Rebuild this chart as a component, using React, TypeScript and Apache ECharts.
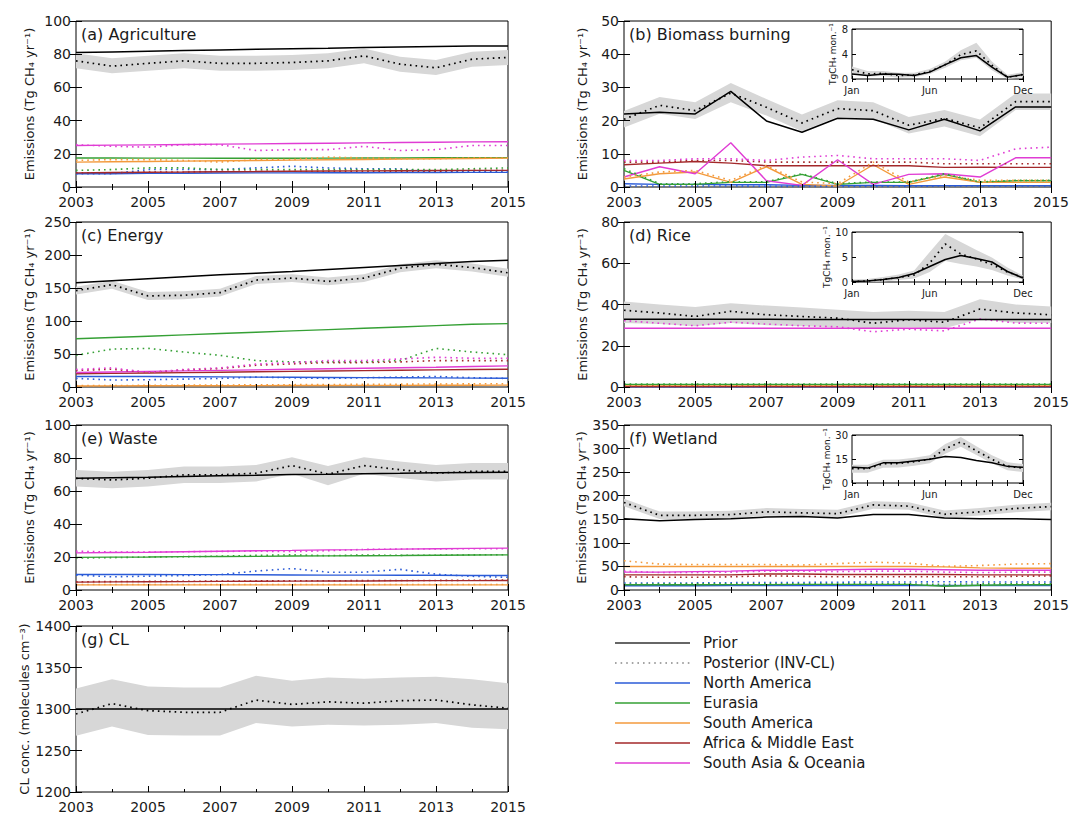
import React, { useEffect, useRef } from "react";
import * as echarts from "echarts";

// ---------- shared categories ----------
const YEARS = [2003, 2004, 2005, 2006, 2007, 2008, 2009, 2010, 2011, 2012, 2013, 2014, 2015];
const MONTHS = ["Jan", "Feb", "Mar", "Apr", "May", "Jun", "Jul", "Aug", "Sep", "Oct", "Nov", "Dec"];
const REGIONS = ["North America", "Eurasia", "South America", "Africa & Middle East", "South Asia & Oceania"];
const REGION_COLORS = ["#2b5bd7", "#35a035", "#f39a3c", "#a3282a", "#e03cd4"];
const EMIS = "Emissions (Tg CH\u2084 yr\u207B\u00B9)";

// ---------- (a) Agriculture ----------
const AGR_PRIOR = [81, 81.4, 81.8, 82.2, 82.6, 83, 83.3, 83.6, 84, 84.3, 84.6, 84.9, 85];
const AGR_POST = [76, 72.8, 74.5, 76, 74.5, 74.5, 75, 76, 79, 74, 71.8, 77, 78];
const AGR_LOW = [71.5, 68.5, 70, 71.5, 70, 70, 70.5, 71.5, 74.5, 69.5, 67.5, 72.5, 73.5];
const AGR_HIGH = [80.5, 77.5, 79, 80.5, 79, 79, 79.5, 80.5, 83.5, 78.5, 76.5, 81.5, 82.5];
const AGR_REG_PRIOR = [
  [8, 8, 8.2, 8.3, 8.4, 8.5, 8.5, 8.6, 8.6, 8.7, 8.7, 8.8, 8.8],
  [17.5, 17.5, 17.4, 17.4, 17.3, 17.3, 17.3, 17.4, 17.5, 17.5, 17.6, 17.6, 17.7],
  [15, 15.2, 15.4, 15.6, 15.8, 16, 16.2, 16.4, 16.6, 16.8, 17, 17.2, 17.4],
  [8.5, 8.7, 8.9, 9, 9.2, 9.3, 9.5, 9.6, 9.7, 9.8, 9.9, 10, 10],
  [25, 25.2, 25.4, 25.6, 25.8, 26, 26.2, 26.4, 26.6, 26.8, 27, 27.2, 27.3],
];
const AGR_REG_POST = [
  [8, 8, 10.5, 10.5, 10.5, 11.5, 12.5, 11.5, 11, 11, 9, 9.5, 9.5],
  [10, 10.5, 11.5, 11.5, 10.5, 10.5, 10.5, 10.5, 10.5, 10.5, 10.5, 11, 11.5],
  [16, 16.5, 16.5, 16, 15, 16.5, 16.5, 18, 17.5, 17, 17, 17.5, 17.5],
  [8.5, 8.5, 9, 9, 9.5, 9.5, 9.5, 9.5, 9.5, 9.5, 9.5, 10, 10],
  [25.5, 24.5, 24, 25.5, 25.5, 22, 22.5, 22.5, 24.5, 22, 22.5, 25, 25],
];

// ---------- (b) Biomass burning ----------
const BB_PRIOR = [22, 22.5, 22, 28.8, 19.9, 16.5, 20.7, 20.4, 17.2, 20.4, 16.9, 24.1, 24.1];
const BB_POST = [20.4, 24.6, 23, 28.3, 24, 19.3, 23.6, 23, 18.6, 20.7, 17.8, 25.7, 25.7];
const BB_LOW = [17.9, 22.1, 20.5, 25.5, 21.5, 16.8, 21.1, 20.5, 16.1, 18.2, 15.3, 23.2, 23.2];
const BB_HIGH = [22.9, 27.1, 25.5, 31.3, 26.5, 21.8, 26.1, 25.5, 21.1, 23.2, 20.3, 28.2, 28.2];
const BB_REG_PRIOR = [
  [1, 0.8, 0.8, 0.7, 0.7, 0.5, 0.5, 0.5, 0.4, 0.4, 0.4, 0.4, 0.4],
  [5, 0.8, 0.8, 1.4, 1.4, 3.8, 0.8, 1.4, 1.4, 3.8, 1.4, 1.9, 1.9],
  [2.4, 4, 4.5, 1.4, 6.1, 0.8, 0.3, 6.7, 0.8, 3, 1.4, 1.4, 1.4],
  [6.7, 7.2, 7.7, 7.2, 6.4, 6.4, 6.4, 6.4, 6.4, 5.9, 6, 5.9, 5.9],
  [3, 6.1, 4, 13.3, 1.9, 0.5, 8.2, 0.8, 3.8, 4, 3, 8.8, 8.8],
];
const BB_REG_POST = [
  [0.3, 0.3, 0.3, 0.3, 0.2, 0.2, 0.2, 0.2, 0.2, 0.3, 0.3, 0.3, 0.3],
  [5.5, 1, 1, 1.6, 1.6, 4, 1, 1.5, 1.5, 4, 1.5, 2, 2],
  [3, 4.5, 5, 2, 6.5, 1.5, 1, 7.5, 1.5, 3.5, 2, 2, 2],
  [7.5, 7.5, 8, 8, 7.5, 7.5, 7.5, 7.5, 7.5, 7, 7, 7, 7],
  [8, 8, 8.5, 8.5, 8, 9, 9.5, 8.5, 8.5, 8.5, 8, 11.5, 12],
];
const BB_M_PRIOR = [0.8, 0.55, 0.8, 0.75, 0.55, 1.1, 2.3, 3.4, 3.75, 1.9, 0.3, 0.7];
const BB_M_POST = [1.5, 0.8, 0.9, 0.55, 0.65, 1.2, 2.3, 3.9, 4.5, 2.2, 0.3, 0.7];
const BB_M_LOW = [0.9, 0.4, 0.5, 0.2, 0.3, 0.8, 1.8, 3.0, 3.4, 1.4, 0.0, 0.3];
const BB_M_HIGH = [2.0, 1.3, 1.3, 1.0, 1.0, 1.6, 2.8, 4.6, 5.8, 2.8, 0.7, 1.1];

// ---------- (c) Energy ----------
const EN_PRIOR = [158, 161, 164, 167, 170, 172.5, 175, 178, 181, 184, 187, 190, 192];
const EN_POST = [146, 155, 138, 139, 143, 162, 165, 160, 165, 180, 186, 181, 173];
const EN_LOW = [140, 149, 132, 133, 137, 156, 159, 154, 159, 174, 180, 175, 167];
const EN_HIGH = [152, 161, 144, 145, 149, 168, 171, 166, 171, 186, 192, 187, 179];
const EN_REG_PRIOR = [
  [16, 16, 15.8, 15.6, 15.4, 15, 14.8, 14.5, 14.2, 14, 13.8, 13.5, 13.3],
  [73, 75, 77, 79, 81, 83, 85, 87, 89, 91, 93, 95, 96],
  [1.6, 1.7, 1.8, 1.9, 2, 2.1, 2.2, 2.3, 2.4, 2.5, 2.6, 2.7, 2.8],
  [20, 20.6, 21.2, 21.8, 22.4, 23, 23.6, 24.2, 24.8, 25.4, 26, 26.6, 27],
  [22, 22.8, 23.6, 24.4, 25.2, 26, 26.8, 27.6, 28.4, 29.2, 30, 31, 32],
];
const EN_REG_POST = [
  [13, 10.6, 11, 12, 13, 15, 14, 13, 14, 15, 16, 14, 13],
  [48, 57.4, 58.5, 53, 48, 40, 38, 38, 38, 40, 58.5, 53, 49],
  [2, 2.2, 2.5, 2.8, 3, 3.3, 3.5, 3.8, 4, 4.3, 4.6, 4.8, 5],
  [25, 27, 22, 26, 28, 33, 35, 37, 37, 38, 40, 40, 40],
  [26.6, 29, 22, 26.6, 29, 34.6, 37, 40, 40, 42.5, 45, 43.6, 43.6],
];

// ---------- (d) Rice ----------
const RI_PRIOR = [32.8, 32.8, 32.8, 32.8, 32.8, 32.7, 32.7, 32.7, 32.7, 32.7, 32.7, 32.7, 32.7];
const RI_POST = [37.2, 35.9, 34.2, 36.7, 35, 34.2, 33.4, 30.9, 32.6, 31.4, 37.8, 35.9, 35];
const RI_LOW = [31, 30.5, 29.5, 31, 30, 29.5, 29, 28.5, 29, 28.5, 33, 31, 31];
const RI_HIGH = [41.4, 40, 38.8, 40.6, 39.5, 38.5, 37.5, 36.4, 37, 36.4, 42.6, 40, 39];
const RI_REG_PRIOR = [
  [0.1, 0.1, 0.1, 0.1, 0.1, 0.1, 0.1, 0.1, 0.1, 0.1, 0.1, 0.1, 0.1],
  [1.2, 1.2, 1.2, 1.2, 1.2, 1.2, 1.2, 1.2, 1.2, 1.2, 1.2, 1.2, 1.2],
  [0.5, 0.5, 0.5, 0.5, 0.5, 0.5, 0.5, 0.5, 0.5, 0.5, 0.5, 0.5, 0.5],
  [0.2, 0.2, 0.2, 0.2, 0.2, 0.2, 0.2, 0.2, 0.2, 0.2, 0.2, 0.2, 0.2],
  [28.5, 28.5, 28.5, 28.5, 28.5, 28.5, 28.5, 28.5, 28.5, 28.5, 28.5, 28.5, 28.5],
];
const RI_REG_POST = [
  [0.1, 0.1, 0.1, 0.1, 0.1, 0.1, 0.1, 0.1, 0.1, 0.1, 0.1, 0.1, 0.1],
  [1.4, 1.4, 1.4, 1.4, 1.4, 1.4, 1.4, 1.4, 1.4, 1.4, 1.4, 1.4, 1.4],
  [0.6, 0.6, 0.6, 0.6, 0.6, 0.6, 0.6, 0.6, 0.6, 0.6, 0.6, 0.6, 0.6],
  [0.3, 0.3, 0.3, 0.3, 0.3, 0.3, 0.3, 0.3, 0.3, 0.3, 0.3, 0.3, 0.3],
  [32.2, 30.9, 29.7, 31.4, 30.5, 29.7, 29.2, 26.8, 28, 27.2, 33, 31, 30.9],
];
const RI_M_PRIOR = [0.1, 0.2, 0.5, 0.9, 1.7, 3.1, 4.5, 5.3, 4.7, 4.0, 2.1, 0.8];
const RI_M_POST = [0.1, 0.2, 0.5, 0.9, 1.4, 3.8, 7.6, 5.6, 4.6, 3.5, 2.0, 0.9];
const RI_M_LOW = [0, 0, 0.1, 0.4, 0.7, 2.0, 4.2, 3.6, 3.1, 2.4, 1.3, 0.5];
const RI_M_HIGH = [0.5, 0.6, 1.0, 1.5, 2.3, 6.0, 9.6, 8.0, 6.4, 4.9, 2.9, 1.3];

// ---------- (e) Waste ----------
const WA_PRIOR = [67.7, 68, 68.3, 68.8, 69.3, 69.6, 70, 70.2, 70.5, 70.7, 71, 71.2, 71.3];
const WA_POST = [67.7, 66.7, 67.7, 69.8, 69.8, 70.8, 75.4, 70.2, 75.4, 72.9, 70.8, 71.9, 71.9];
const WA_LOW = [62.7, 61.7, 62.7, 64.8, 64.8, 65.8, 70.4, 63.5, 70.4, 67.9, 65.8, 66.9, 66.9];
const WA_HIGH = [72.7, 71.7, 72.7, 74.8, 74.8, 75.8, 80.4, 75.2, 80.4, 77.9, 75.8, 76.9, 76.9];
const WA_REG_PRIOR = [
  [9.4, 9.4, 9.4, 9.3, 9.3, 9.2, 9.1, 9, 9, 8.9, 8.9, 8.8, 8.75],
  [19.8, 19.9, 20, 20.2, 20.3, 20.4, 20.6, 20.7, 20.8, 20.9, 21.1, 21.2, 21.3],
  [3.1, 3.1, 3.1, 3.1, 3.1, 3.1, 3.1, 3.1, 3.1, 3.1, 3.1, 3.1, 3.1],
  [4.8, 4.9, 5, 5.1, 5.2, 5.3, 5.4, 5.5, 5.5, 5.6, 5.7, 5.7, 5.8],
  [22.5, 22.7, 22.9, 23.2, 23.5, 23.8, 24, 24.3, 24.5, 24.8, 25, 25.2, 25.4],
];
const WA_REG_POST = [
  [9, 8, 8.4, 8.8, 9.3, 11.5, 13, 10.8, 10.8, 12.5, 9.6, 8.3, 7.7],
  [19.4, 19.6, 20, 20.2, 20.5, 21, 21.3, 20.8, 21.2, 21, 21.1, 21.3, 21.4],
  [3.3, 3.3, 3.3, 3.3, 3.3, 3.3, 3.3, 3.3, 3.3, 3.3, 3.3, 3.3, 3.3],
  [5, 5.1, 5.2, 5.3, 5.4, 5.5, 5.6, 5.6, 5.7, 5.8, 5.8, 5.9, 6],
  [23.5, 23, 23, 23.2, 23.4, 23.5, 23.3, 23.8, 24.6, 24.8, 24.9, 25, 25],
];

// ---------- (f) Wetland ----------
const WE_PRIOR = [151, 147, 149.6, 151, 154.7, 156, 152.5, 160, 160, 152.5, 151, 151, 149.6];
const WE_POST = [185.7, 158.4, 158.4, 160, 165.8, 163.6, 162, 180.5, 178, 160.6, 165.8, 173, 177];
const WE_LOW = [177.7, 150.4, 150.4, 152, 157.8, 155.6, 154, 172.5, 170, 152.6, 157.8, 165, 169];
const WE_HIGH = [193.7, 166.4, 166.4, 168, 173.8, 171.6, 170, 188.5, 186, 168.6, 173.8, 181, 185];
const WE_REG_PRIOR = [
  [9, 9, 9, 9.2, 9.2, 9.4, 9.4, 9.5, 9.5, 9.5, 9.6, 9.6, 9.6],
  [11, 11, 11, 11.5, 11.5, 12, 12, 12, 12, 8, 10, 11, 11],
  [50, 50, 50, 50, 50, 50, 50, 50, 50, 49, 47, 46, 46],
  [32, 32, 32, 32, 34, 34, 33, 33, 33, 33, 32, 32, 32],
  [38, 38, 39, 40, 42, 42, 43, 44, 44, 43, 42, 42, 42],
];
const WE_REG_POST = [
  [15, 15, 15, 15.5, 16, 16, 16.5, 17, 17, 17.5, 17, 17, 17],
  [12, 13, 13, 13, 13, 13, 13, 13, 13, 12, 13, 13, 13],
  [62, 55, 54, 54, 54, 53, 56, 59, 57, 50, 52, 55, 56],
  [28, 27, 27, 28, 30, 29, 28, 28, 28, 28, 28, 29, 30],
  [40, 37, 37, 38, 40, 40, 39, 40, 40, 38, 37, 38, 38],
];
const WE_M_PRIOR = [9.8, 9.3, 12.6, 12.6, 13.7, 14.8, 16.5, 15.9, 14.1, 12.6, 10.4, 9.8];
const WE_M_POST = [8.9, 8.9, 12, 12.2, 13.3, 14.8, 21.3, 25.7, 20.2, 14.8, 10.4, 9.3];
const WE_M_LOW = [6.4, 6.4, 9.5, 9.7, 10.8, 12.3, 18.3, 22.7, 17.5, 12.3, 7.9, 6.8];
const WE_M_HIGH = [11.4, 11.4, 14.5, 14.7, 15.8, 17.3, 24.3, 28.7, 22.9, 17.3, 12.9, 11.8];

// ---------- (g) CL ----------
const CL_PRIOR = [1300, 1300, 1300, 1300, 1300, 1300, 1300, 1300, 1300, 1300, 1300, 1300, 1300];
const CL_POST = [1294, 1306.5, 1298, 1296, 1296, 1310.8, 1305.5, 1308.6, 1307, 1310, 1310.8, 1305, 1301];
const CL_LOW = [1267.8, 1278.8, 1268.7, 1268, 1268, 1283.2, 1278.8, 1281, 1280, 1281, 1283, 1277.5, 1275.7];
const CL_HIGH = [1324.7, 1335.7, 1327, 1326, 1326, 1340, 1334, 1338, 1336.5, 1338, 1339, 1335.7, 1331];

// ---------- styling / layout ----------
const FONT = "'DejaVu Sans', 'Noto Sans', sans-serif";
const INK = "#1a1a1a";
const BAND = "#d7d7d7";
const DOTS = [1.6, 4];

const MAIN: any[] = [
  { title: "(a) Agriculture", left: 76, top: 21, width: 432, height: 166, min: 0, max: 100, step: 20, name: EMIS, gap: 40, prior: AGR_PRIOR, post: AGR_POST, low: AGR_LOW, high: AGR_HIGH, rp: AGR_REG_PRIOR, rq: AGR_REG_POST },
  { title: "(b) Biomass burning", left: 624, top: 21, width: 433, height: 166, min: 0, max: 50, step: 10, name: EMIS, gap: 35, prior: BB_PRIOR, post: BB_POST, low: BB_LOW, high: BB_HIGH, rp: BB_REG_PRIOR, rq: BB_REG_POST },
  { title: "(c) Energy", left: 76, top: 222, width: 432, height: 165, min: 0, max: 250, step: 50, name: EMIS, gap: 40, prior: EN_PRIOR, post: EN_POST, low: EN_LOW, high: EN_HIGH, rp: EN_REG_PRIOR, rq: EN_REG_POST },
  { title: "(d) Rice", left: 624, top: 222, width: 433, height: 165, min: 0, max: 80, step: 20, name: EMIS, gap: 35, prior: RI_PRIOR, post: RI_POST, low: RI_LOW, high: RI_HIGH, rp: RI_REG_PRIOR, rq: RI_REG_POST },
  { title: "(e) Waste", left: 76, top: 425, width: 432, height: 165, min: 0, max: 100, step: 20, name: EMIS, gap: 40, prior: WA_PRIOR, post: WA_POST, low: WA_LOW, high: WA_HIGH, rp: WA_REG_PRIOR, rq: WA_REG_POST },
  { title: "(f) Wetland", left: 624, top: 425, width: 433, height: 165, min: 0, max: 350, step: 50, name: EMIS, gap: 35, prior: WE_PRIOR, post: WE_POST, low: WE_LOW, high: WE_HIGH, rp: WE_REG_PRIOR, rq: WE_REG_POST },
  { title: "(g) CL", left: 76, top: 626, width: 432, height: 167, min: 1200, max: 1400, step: 50, name: "CL conc. (molecules cm\u207B\u00B3)", gap: 40, prior: CL_PRIOR, post: CL_POST, low: CL_LOW, high: CL_HIGH, rp: [], rq: [] },
];

const INSETS: any[] = [
  { left: 852, top: 29, width: 171, height: 50, min: 0, max: 8, step: 4, prior: BB_M_PRIOR, post: BB_M_POST, low: BB_M_LOW, high: BB_M_HIGH },
  { left: 852, top: 232, width: 171, height: 50, min: 0, max: 10, step: 5, prior: RI_M_PRIOR, post: RI_M_POST, low: RI_M_LOW, high: RI_M_HIGH },
  { left: 852, top: 435, width: 171, height: 48, min: 0, max: 30, step: 15, prior: WE_M_PRIOR, post: WE_M_POST, low: WE_M_LOW, high: WE_M_HIGH },
];

const LEGEND_ITEMS: any[] = [
  { name: "Prior", color: "#333", dash: null },
  { name: "Posterior (INV-CL)", color: "#888", dash: DOTS },
  { name: REGIONS[0], color: REGION_COLORS[0], dash: null },
  { name: REGIONS[1], color: REGION_COLORS[1], dash: null },
  { name: REGIONS[2], color: REGION_COLORS[2], dash: null },
  { name: REGIONS[3], color: REGION_COLORS[3], dash: null },
  { name: REGIONS[4], color: REGION_COLORS[4], dash: null },
];

function bandSeries(xi: number, yi: number, xs: number[], low: number[], high: number[]) {
  const data = xs.map((x, k) => [x, low[k], high[k]]);
  const n = data.length;
  return {
    type: "custom",
    name: "band",
    xAxisIndex: xi,
    yAxisIndex: yi,
    silent: true,
    z: 1,
    data,
    encode: { x: 0, y: [1, 2] },
    renderItem: (params: any, api: any) => {
      if (params.dataIndex !== 0) return null;
      const top: number[][] = [];
      const bot: number[][] = [];
      for (let k = 0; k < n; k++) {
        top.push(api.coord([api.value(0, k), api.value(2, k)]));
        bot.push(api.coord([api.value(0, k), api.value(1, k)]));
      }
      return {
        type: "polygon",
        shape: { points: top.concat(bot.reverse()) },
        style: { fill: BAND, stroke: null },
      };
    },
  };
}

function lineSeries(name: string, xi: number, yi: number, data: any[], color: string, dashed: boolean, width: number, z: number) {
  return {
    type: "line",
    name,
    xAxisIndex: xi,
    yAxisIndex: yi,
    data,
    symbol: "none",
    showSymbol: false,
    silent: true,
    z,
    lineStyle: { color, width, type: dashed ? DOTS : "solid" },
  };
}

function buildOption() {
  const grid: any[] = [];
  const xAxis: any[] = [];
  const yAxis: any[] = [];
  const series: any[] = [];
  const graphic: any[] = [];
  const xs = YEARS.map((y) => y - YEARS[0]);
  const pair = (vals: number[]) => xs.map((x, k) => [x, vals[k]]);
  const tickLine = { color: "#000", width: 1 };

  MAIN.forEach((p) => {
    const gi = grid.length;
    grid.push({ left: p.left, top: p.top, width: p.width, height: p.height, show: true, borderColor: "#000", borderWidth: 1, backgroundColor: "transparent" });
    const xi = xAxis.length;
    ["bottom", "top"].forEach((pos, j) => {
      xAxis.push({
        gridIndex: gi, type: "value", position: pos, min: 0, max: YEARS.length - 1, interval: 2, z: 5,
        axisLine: { show: false },
        axisTick: { show: true, inside: true, length: 6, lineStyle: tickLine },
        minorTick: { show: true, splitNumber: 2, length: 3, lineStyle: tickLine },
        splitLine: { show: false }, minorSplitLine: { show: false },
        axisLabel: { show: j === 0, margin: 8, fontFamily: FONT, fontSize: 14, color: INK, formatter: (v: number) => String(YEARS[0] + v) },
      });
    });
    const yi = yAxis.length;
    ["left", "right"].forEach((pos, j) => {
      yAxis.push({
        gridIndex: gi, type: "value", position: pos, min: p.min, max: p.max, interval: p.step, z: 5,
        name: j === 0 ? p.name : "", nameLocation: "middle", nameGap: p.gap,
        nameTextStyle: { fontFamily: FONT, fontSize: 13, color: INK },
        axisLine: { show: false },
        axisTick: { show: true, inside: true, length: 6, lineStyle: tickLine },
        splitLine: { show: false },
        axisLabel: { show: j === 0, margin: 5, fontFamily: FONT, fontSize: 14, color: INK, formatter: (v: number) => String(v) },
      });
    });
    series.push(bandSeries(xi, yi, xs, p.low, p.high));
    p.rp.forEach((vals: number[], r: number) => series.push(lineSeries(REGIONS[r], xi, yi, pair(vals), REGION_COLORS[r], false, 1.4, 2)));
    p.rq.forEach((vals: number[], r: number) => series.push(lineSeries(REGIONS[r], xi, yi, pair(vals), REGION_COLORS[r], true, 1.6, 2)));
    series.push(lineSeries("Prior", xi, yi, pair(p.prior), "#000", false, 1.5, 3));
    series.push(lineSeries("Posterior (INV-CL)", xi, yi, pair(p.post), "#000", true, 1.7, 3));
    graphic.push({
      type: "text", x: p.left + 5, y: p.top + 13, z: 10,
      style: { text: p.title, fontFamily: FONT, fontSize: 16, fill: INK, verticalAlign: "middle" },
    });
  });

  INSETS.forEach((p) => {
    const gi = grid.length;
    grid.push({ left: p.left, top: p.top, width: p.width, height: p.height, show: true, borderColor: "#000", borderWidth: 1, backgroundColor: "#fff" });
    const xi = xAxis.length;
    ["bottom", "top"].forEach((pos, j) => {
      xAxis.push({
        gridIndex: gi, type: "category", position: pos, data: MONTHS, boundaryGap: false, z: 5,
        axisLine: { show: false },
        axisTick: { show: true, inside: true, length: 3, interval: 0, lineStyle: tickLine },
        splitLine: { show: false },
        axisLabel: { show: j === 0, margin: 6, fontFamily: FONT, fontSize: 10, color: INK, interval: (i: number) => i === 0 || i === 5 || i === 11 },
      });
    });
    const yi = yAxis.length;
    ["left", "right"].forEach((pos, j) => {
      yAxis.push({
        gridIndex: gi, type: "value", position: pos, min: p.min, max: p.max, interval: p.step, z: 5,
        name: j === 0 ? "TgCH\u2084 mon.\u207B\u00B9" : "", nameLocation: "middle", nameGap: 15,
        nameTextStyle: { fontFamily: FONT, fontSize: 9, color: INK },
        axisLine: { show: false },
        axisTick: { show: true, inside: true, length: 4, lineStyle: tickLine },
        splitLine: { show: false },
        axisLabel: { show: j === 0, margin: 4, fontFamily: FONT, fontSize: 10, color: INK },
      });
    });
    const mx = MONTHS.map((_, k) => k);
    series.push(bandSeries(xi, yi, mx, p.low, p.high));
    series.push(lineSeries("Prior", xi, yi, p.prior, "#000", false, 1.5, 4));
    series.push(lineSeries("Posterior (INV-CL)", xi, yi, p.post, "#000", true, 1.7, 4));
  });

  LEGEND_ITEMS.forEach((it, k) => {
    const y = 643 + k * 20;
    graphic.push({
      type: "line", z: 10, silent: true,
      shape: { x1: 615, y1: y, x2: 690, y2: y },
      style: { stroke: it.color, lineWidth: it.dash ? 1.6 : 1.3, lineDash: it.dash || null },
    });
    graphic.push({
      type: "text", x: 703, y, z: 10, silent: true,
      style: { text: it.name, fontFamily: FONT, fontSize: 15, fill: INK, verticalAlign: "middle" },
    });
  });

  return {
    animation: false,
    backgroundColor: "#fff",
    grid,
    xAxis,
    yAxis,
    series,
    graphic,
  };
}

export default function App() {
  const ref = useRef<HTMLDivElement>(null);
  useEffect(() => {
    if (!ref.current) return;
    const chart = echarts.init(ref.current, null, { renderer: "svg" });
    chart.setOption(buildOption() as any);
    return () => chart.dispose();
  }, []);
  return (
    <div
      ref={ref}
      style={{ position: "absolute", left: 0, top: 0, width: 1072, height: 814, background: "#fff" }}
    />
  );
}
